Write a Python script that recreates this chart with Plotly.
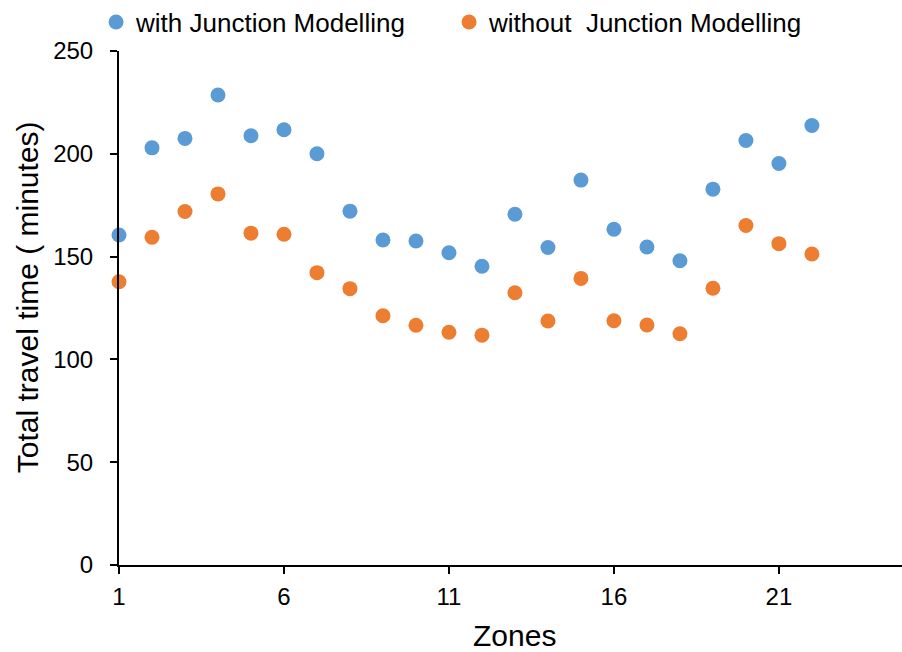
import plotly.graph_objects as go

zones = list(range(1, 23))
with_junction = [160.5, 202.9, 207.5, 228.6, 208.8, 211.7, 200.0, 172.1, 158.1, 157.6, 151.9, 145.3,
                 170.6, 154.4, 187.2, 163.3, 154.7, 148.0, 182.8, 206.5, 195.3, 213.8]
without_junction = [137.8, 159.4, 171.9, 180.5, 161.4, 160.9, 142.2, 134.4, 121.2, 116.6, 113.2, 111.8,
                    132.4, 118.7, 139.4, 118.8, 116.7, 112.5, 134.6, 165.1, 156.3, 151.3]
x_ticks = [1, 6, 11, 16, 21]
y_ticks = [0, 50, 100, 150, 200, 250]

FONT = "Liberation Sans, Arial, sans-serif"

fig = go.Figure()
fig.add_trace(go.Scatter(x=zones, y=with_junction, mode="markers", name="with Junction Modelling",
                         marker=dict(color="#5B9BD5", size=15, line=dict(width=0)), cliponaxis=False))
fig.add_trace(go.Scatter(x=zones, y=without_junction, mode="markers", name="without  Junction Modelling",
                         marker=dict(color="#ED7D31", size=15, line=dict(width=0)), cliponaxis=False))

axis_common = dict(showgrid=False, zeroline=False, showline=True, linecolor="black", linewidth=2,
                   ticks="outside", ticklen=7, tickwidth=2, tickcolor="black", automargin=False,
                   tickfont=dict(family=FONT, size=24, color="black"))

fig.update_layout(
    width=902, height=652,
    margin=dict(l=119, r=0, t=51, b=87, pad=0, autoexpand=False),
    plot_bgcolor="white", paper_bgcolor="white",
    font=dict(family=FONT, color="black"),
    showlegend=True,
    legend=dict(orientation="h", xref="container", yref="container", x=0.1065, y=0.966,
                xanchor="left", yanchor="middle", font=dict(family=FONT, size=26, color="black"),
                entrywidth=308, entrywidthmode="pixels", bgcolor="rgba(0,0,0,0)"),
    xaxis=dict(range=[1, 24.73], tickvals=x_ticks, ticktext=[str(v) for v in x_ticks],
               ticklabelstandoff=2, **axis_common),
    yaxis=dict(range=[0, 250], tickvals=y_ticks, ticktext=[str(v) for v in y_ticks],
               ticklabelstandoff=12, **axis_common),
    annotations=[
        dict(text="Zones", xref="paper", yref="paper", x=0.5057, y=-0.138, xanchor="center", yanchor="middle",
             showarrow=False, font=dict(family=FONT, size=30, color="black")),
        dict(text="Total travel time ( minutes)", xref="paper", yref="paper", x=-0.1175, y=0.521,
             xanchor="center", yanchor="middle", textangle=-90, showarrow=False,
             font=dict(family=FONT, size=30, color="black")),
    ],
)

fig.write_html("out.html")
